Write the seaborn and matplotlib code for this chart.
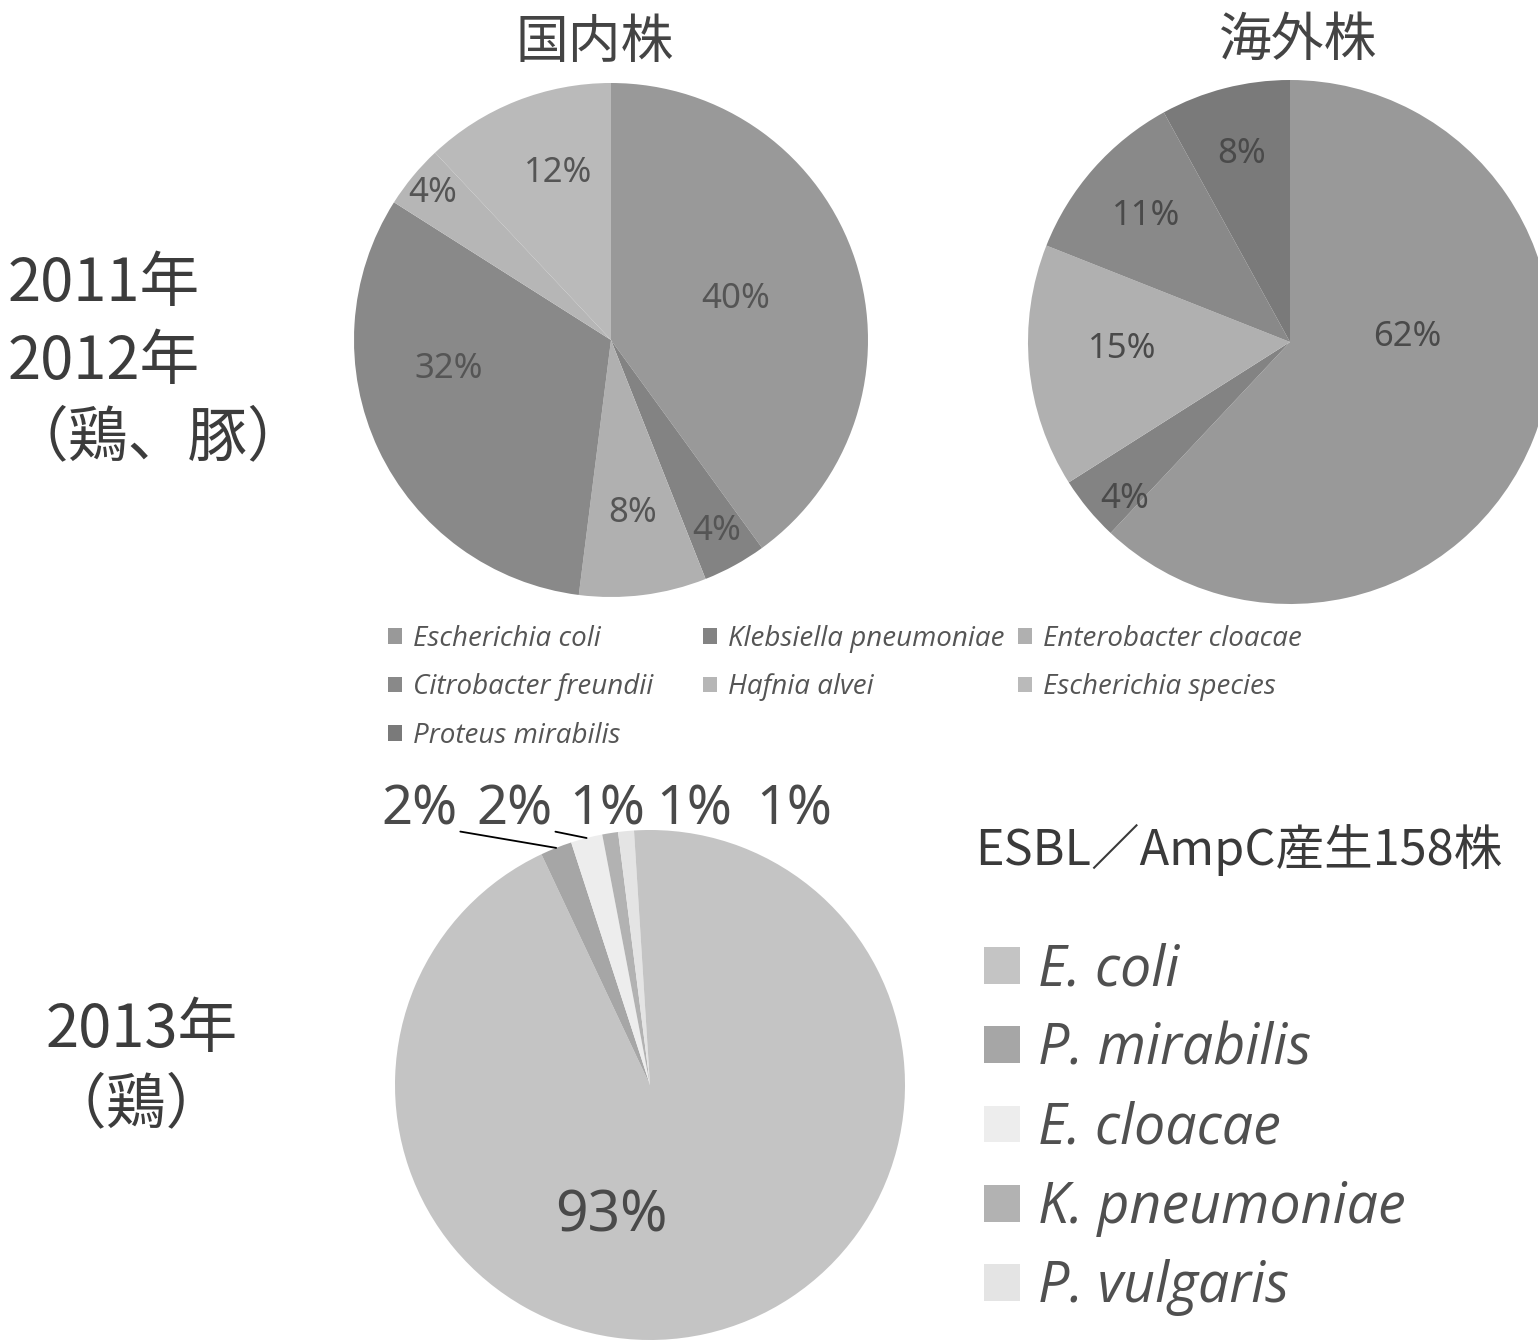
import numpy as np
import matplotlib
matplotlib.use("Agg")
import matplotlib.pyplot as plt
from matplotlib.patches import Patch
from matplotlib.font_manager import FontProperties
import seaborn as sns

# ---------------- data ----------------
top_categories = ["Escherichia coli", "Klebsiella pneumoniae", "Enterobacter cloacae",
                  "Citrobacter freundii", "Hafnia alvei", "Escherichia species",
                  "Proteus mirabilis"]
domestic_labels = ["Escherichia coli", "Klebsiella pneumoniae", "Enterobacter cloacae",
                   "Citrobacter freundii", "Hafnia alvei", "Escherichia species"]
domestic_pct = [40, 4, 8, 32, 4, 12]
overseas_labels = ["Escherichia coli", "Klebsiella pneumoniae", "Enterobacter cloacae",
                   "Citrobacter freundii", "Proteus mirabilis"]
overseas_pct = [62, 4, 15, 11, 8]
chicken_labels = ["E. coli", "P. mirabilis", "E. cloacae", "K. pneumoniae", "P. vulgaris", "other"]
chicken_pct = [93, 2, 2, 1, 1, 1]
chicken_legend = ["E. coli", "P. mirabilis", "E. cloacae", "K. pneumoniae", "P. vulgaris"]

panel_titles = ["国内株", "海外株"]
row_labels_top = ["2011年", "2012年", "（鶏、豚）"]
row_labels_bottom = ["2013年", "（鶏）"]
bottom_title = "ESBL／AmpC産生158株"

# ---------------- style ----------------
sns.set_theme(style="white")
plt.rcParams['font.family'] = ['Noto Sans CJK JP', 'DejaVu Sans']

top_colors = dict(zip(top_categories,
                      ["#999999", "#838383", "#b0b0b0", "#898989", "#b6b6b6", "#bababa", "#7a7a7a"]))
chicken_colors = dict(zip(chicken_labels,
                          ["#c4c4c4", "#a6a6a6", "#ededed", "#b2b2b2", "#e4e4e4", "#c4c4c4"]))

W, H = 1538, 1340
fig = plt.figure(figsize=(W / 100, H / 100), dpi=100)
fig.patch.set_facecolor("white")

PAD = 1.03
LEG_FONT = "Open Sans"


def pie_axes(cx, cy, r):
    rr = r * PAD
    ax = fig.add_axes([(cx - rr) / W, 1 - (cy + rr) / H, 2 * rr / W, 2 * rr / H])
    return ax


def draw_pie(ax, values, colors, dists, shifts, fontsize, tcolor, show=None):
    wedges, _ = ax.pie(values, colors=colors, startangle=90, counterclock=False,
                       radius=1.0, wedgeprops=dict(linewidth=0))
    ax.set_xlim(-PAD, PAD)
    ax.set_ylim(-PAD, PAD)
    ax.set_aspect("equal")
    ax.axis("off")
    for i, (w, v) in enumerate(zip(wedges, values)):
        if show is not None and not show[i]:
            continue
        ang = np.deg2rad((w.theta1 + w.theta2) / 2 + shifts[i])
        ax.text(dists[i] * np.cos(ang), dists[i] * np.sin(ang), f"{v}%",
                ha="center", va="center", fontsize=fontsize, color=tcolor,
                family=["Noto Sans", "DejaVu Sans"])
    return wedges


# top-left pie (国内株)
ax1 = pie_axes(611, 340, 257)
draw_pie(ax1, domestic_pct, [top_colors[c] for c in domestic_labels],
         dists=[0.51, 0.85, 0.68, 0.64, 0.90, 0.68],
         shifts=[0, 0, 0, -15, 0, -4], fontsize=25, tcolor="#555555")

# top-right pie (海外株)
ax2 = pie_axes(1290, 342, 262)
draw_pie(ax2, overseas_pct, [top_colors[c] for c in overseas_labels],
         dists=[0.45, 0.87, 0.64, 0.73, 0.74],
         shifts=[24, 4, -3, 0, 0], fontsize=25, tcolor="#4a4a4a")

# bottom pie (2013)
ax3 = pie_axes(650, 1085, 255)
wedges3 = draw_pie(ax3, chicken_pct, [chicken_colors[c] for c in chicken_labels],
                   dists=[0.54] + [0] * 5, shifts=[-29] + [0] * 5, fontsize=41,
                   tcolor="#4a4a4a", show=[True] + [False] * 5)

# outside labels for the small slices
label_x = [-0.906, -0.533, -0.169, 0.173, 0.565]
label_y = 1.078
for k, (w, v) in enumerate(zip(wedges3[1:], chicken_pct[1:])):
    mid = np.deg2rad((w.theta1 + w.theta2) / 2)
    if k < 2:
        ax3.annotate(f"{v}%", xy=(np.cos(mid), np.sin(mid)), xytext=(label_x[k], label_y),
                     ha="center", va="center", fontsize=39, color="#4a4a4a",
                     family=["Noto Sans", "DejaVu Sans"], annotation_clip=False,
                     arrowprops=dict(arrowstyle="-", color="black", lw=1.3,
                                     shrinkA=0, shrinkB=0, relpos=(1.0, 0.12)))
    else:
        ax3.text(label_x[k], label_y, f"{v}%", ha="center", va="center", fontsize=39,
                 color="#4a4a4a", family=["Noto Sans", "DejaVu Sans"], clip_on=False)

# titles
fig.text(595 / W, 1 - 42 / H, panel_titles[0], ha="center", va="center",
         fontsize=38, color="#444444")
fig.text(1298 / W, 1 - 40 / H, panel_titles[1], ha="center", va="center",
         fontsize=38, color="#444444")

# row labels
for i, t in enumerate(row_labels_top):
    fig.text(8 / W, 1 - (285 + 77 * i) / H, t, ha="left", va="center",
             fontsize=43, color="#3c3c3c")
for i, t in enumerate(row_labels_bottom):
    fig.text(46 / W, 1 - (1030 + 76 * i) / H, t, ha="left", va="center",
             fontsize=43, color="#3c3c3c")

# top legend: three columns, as in the reference layout
columns = [["Escherichia coli", "Citrobacter freundii", "Proteus mirabilis"],
           ["Klebsiella pneumoniae", "Hafnia alvei"],
           ["Enterobacter cloacae", "Escherichia species"]]
col_x = [388, 703, 1018]
for cx, col in zip(col_x, columns):
    handles = [Patch(facecolor=top_colors[c], edgecolor="none") for c in col]
    fig.legend(handles, col, loc="upper left", bbox_to_anchor=(cx / W, 1 - 625 / H),
               frameon=False,
               prop=FontProperties(family=LEG_FONT, style="italic", size=20),
               labelcolor="#555555", handlelength=0.5, handleheight=0.5,
               handletextpad=0.4, labelspacing=0.73,
               borderpad=0, borderaxespad=0)

# bottom legend
fig.text(975 / W, 1 - 850 / H, bottom_title, ha="left", va="center",
         fontsize=35, color="#3a3a3a")
handles_b = [Patch(facecolor=chicken_colors[c], edgecolor="none") for c in chicken_legend]
fig.legend(handles_b, chicken_legend, loc="upper left", bbox_to_anchor=(984 / W, 1 - 942 / H),
           frameon=False, prop=FontProperties(family=LEG_FONT, style="italic", size=40),
           labelcolor="#505050", handlelength=0.64, handleheight=0.64,
           handletextpad=0.33, labelspacing=0.40, borderpad=0, borderaxespad=0)

fig.savefig("out.png", dpi=100, facecolor="white")
